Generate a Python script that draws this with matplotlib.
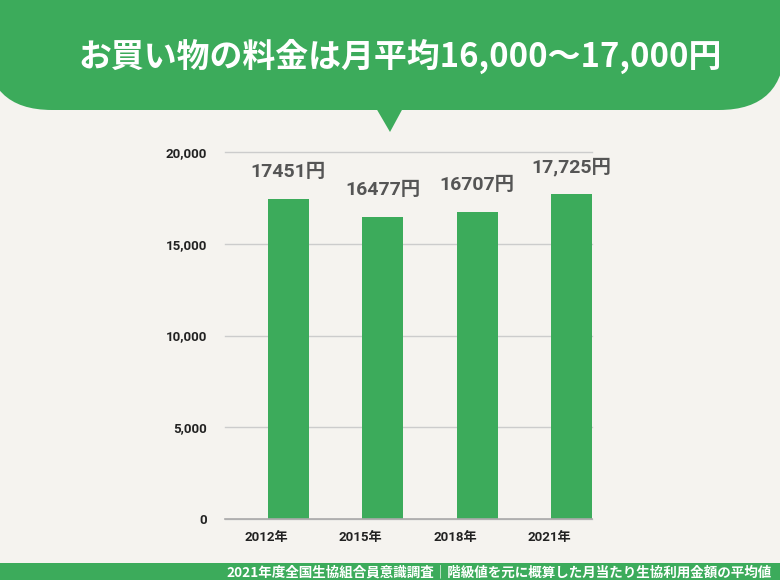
import matplotlib
matplotlib.use("Agg")
import matplotlib.pyplot as plt
from matplotlib.patches import FancyBboxPatch, Polygon, Rectangle

# ---- data ----
categories = ["2012年", "2015年", "2018年", "2021年"]
values = [17451, 16477, 16707, 17725]
value_labels = ["17451円", "16477円", "16707円", "17,725円"]
yticks = [0, 5000, 10000, 15000, 20000]
ytick_labels = ["0", "5,000", "10,000", "15,000", "20,000"]
title = "お買い物の料金は月平均16,000～17,000円"
footer = "2021年度全国生協組合員意識調査｜階級値を元に概算した月当たり生協利用金額の平均値"

BG = "#F5F3EF"
GREEN = "#3CAB5B"
W, H = 780, 580

plt.rcParams['font.family'] = ['Roboto', 'Noto Sans CJK JP', 'DejaVu Sans']

fig = plt.figure(figsize=(W / 100, H / 100), dpi=100, facecolor=BG)

# background decoration axes in pixel coordinates
bg = fig.add_axes([0, 0, 1, 1])
bg.set_xlim(0, W)
bg.set_ylim(H, 0)
bg.axis("off")
bg.set_facecolor(BG)

bubble = FancyBboxPatch((-14, -200), 799, 310,
                        boxstyle="round,pad=0,rounding_size=66",
                        facecolor=GREEN, edgecolor="none")
bg.add_patch(bubble)
bg.add_patch(Polygon([(376, 108), (403, 108), (390, 132)], closed=True,
                     facecolor=GREEN, edgecolor="none"))
bg.text(400, 56, title, color="white", fontsize=23.7, fontweight="bold",
        ha="center", va="center",
        family=['Noto Sans CJK JP', 'DejaVu Sans'])

# footer band
bg.add_patch(Rectangle((0, 563), W, 20, facecolor=GREEN, edgecolor="none"))
bg.text(772, 572, footer, color="white", fontsize=9.75, fontweight="bold",
        ha="right", va="center", family=['Noto Sans CJK JP', 'DejaVu Sans'])

# main chart axes
left, right = 225, 592
top, bottom = 152, 519
ax = fig.add_axes([left / W, (H - bottom) / H, (right - left) / W, (bottom - top) / H])
ax.set_facecolor("none")

x = list(range(len(categories)))
offset = 0.233
width = 0.434
bar_x = [i + offset for i in x]
ax.bar(bar_x, values, width=width, color=GREEN, zorder=3)

ax.set_xlim(-0.434, 3.45)
ax.set_ylim(0, 20000)
ax.set_yticks(yticks)
ax.set_yticklabels(ytick_labels)
ax.set_xticks(x)
ax.set_xticklabels(categories)

for s in ["top", "right", "left"]:
    ax.spines[s].set_visible(False)
ax.spines["bottom"].set_color("#AAAAAA")
ax.spines["bottom"].set_linewidth(1.2)
ax.spines["bottom"].set_zorder(4)

ax.grid(axis="y", color="#CCCCCC", linewidth=1, zorder=0)
for gl in ax.get_ygridlines():
    gl.set_clip_on(False)
ax.tick_params(axis="both", length=0)
ax.tick_params(axis="y", pad=13, labelsize=9.5, labelcolor="#222222")
ax.tick_params(axis="x", pad=9, labelsize=9.5, labelcolor="#222222")
for lab in ax.get_yticklabels() + ax.get_xticklabels():
    lab.set_fontweight("bold")

for bx, v, lab in zip(bar_x, values, value_labels):
    ax.annotate(lab, (bx, v), xytext=(0, 27), textcoords="offset pixels",
                ha="center", va="center", fontsize=14, fontweight="bold",
                color="#555555")

fig.savefig("out.png", dpi=100, facecolor=BG)
